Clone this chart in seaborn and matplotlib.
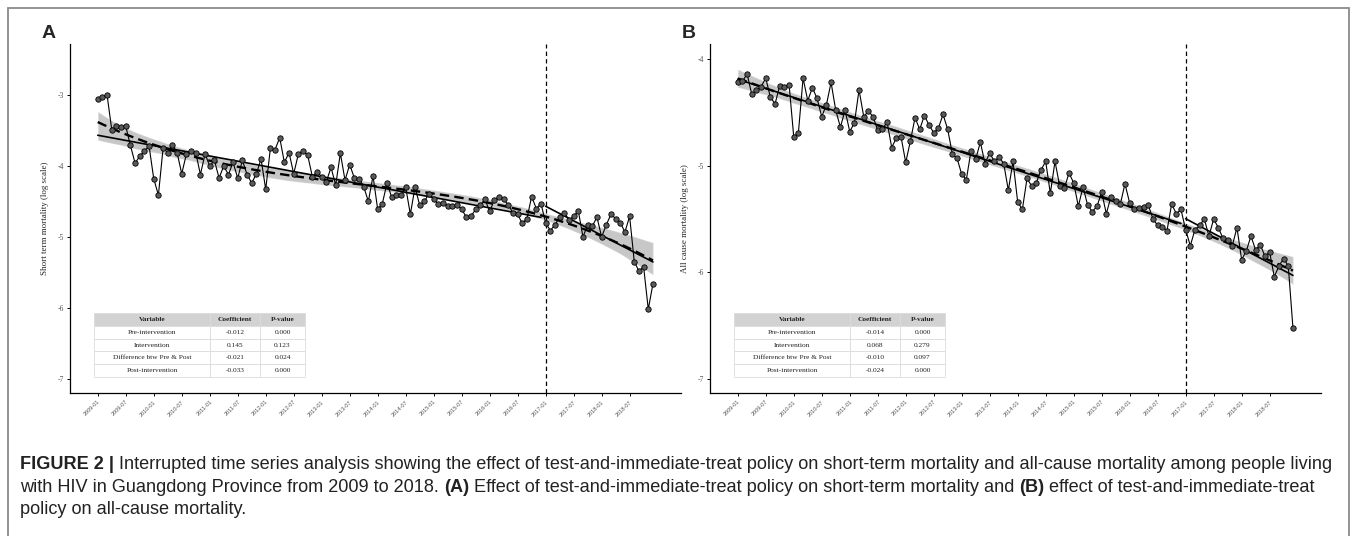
import numpy as np
import pandas as pd
import seaborn as sns
import matplotlib.pyplot as plt
from matplotlib.patches import Rectangle

# monthly log mortality, 2009-01 .. 2018-12
short_term = [-3.06, -3.03, -3.00, -3.49, -3.44, -3.45, -3.44, -3.71, -3.96, -3.86,
              -3.79, -3.72, -4.18, -4.41, -3.75, -3.81, -3.70, -3.81, -4.11, -3.83,
              -3.79, -3.81, -4.12, -3.83, -4.00, -3.92, -4.17, -4.00, -4.12, -3.95,
              -4.17, -3.92, -4.12, -4.24, -4.11, -3.90, -4.33, -3.75, -3.77, -3.60,
              -3.95, -3.81, -4.11, -3.83, -3.79, -3.85, -4.15, -4.08, -4.15, -4.22,
              -4.02, -4.27, -3.82, -4.20, -3.98, -4.17, -4.18, -4.29, -4.50, -4.14,
              -4.61, -4.53, -4.24, -4.44, -4.41, -4.41, -4.30, -4.68, -4.30, -4.55,
              -4.50, -4.39, -4.47, -4.54, -4.52, -4.56, -4.57, -4.55, -4.61, -4.72,
              -4.71, -4.61, -4.55, -4.47, -4.64, -4.48, -4.43, -4.47, -4.55, -4.66,
              -4.68, -4.81, -4.74, -4.43, -4.60, -4.53, -4.80, -4.91, -4.83, -4.72,
              -4.66, -4.76, -4.71, -4.63, -5.00, -4.83, -4.85, -4.72, -5.00, -4.83,
              -4.68, -4.74, -4.80, -4.93, -4.71, -5.35, -5.48, -5.42, -6.02, -5.66]

all_cause = [-4.22, -4.21, -4.14, -4.33, -4.29, -4.26, -4.18, -4.36, -4.42, -4.25,
             -4.26, -4.24, -4.73, -4.69, -4.18, -4.39, -4.27, -4.37, -4.54, -4.43,
             -4.22, -4.48, -4.64, -4.48, -4.68, -4.60, -4.29, -4.54, -4.49, -4.54,
             -4.67, -4.66, -4.59, -4.83, -4.74, -4.73, -4.97, -4.77, -4.55, -4.66,
             -4.53, -4.62, -4.69, -4.65, -4.52, -4.66, -4.89, -4.93, -5.08, -5.13,
             -4.86, -4.94, -4.78, -4.98, -4.88, -4.96, -4.92, -4.98, -5.23, -4.96,
             -5.34, -5.41, -5.12, -5.19, -5.16, -5.04, -4.96, -5.26, -4.96, -5.19,
             -5.21, -5.07, -5.16, -5.38, -5.20, -5.37, -5.43, -5.38, -5.25, -5.45,
             -5.29, -5.33, -5.36, -5.17, -5.35, -5.41, -5.40, -5.39, -5.37, -5.50,
             -5.56, -5.57, -5.61, -5.36, -5.45, -5.41, -5.60, -5.75, -5.60, -5.56,
             -5.50, -5.66, -5.50, -5.58, -5.68, -5.70, -5.75, -5.58, -5.88, -5.80,
             -5.66, -5.79, -5.74, -5.85, -5.81, -6.04, -5.94, -5.87, -5.94, -6.52]

tick_labels = [f'{y}-{m}' for y in range(2009, 2019) for m in ('01', '07')]
intervention = '2017-01'

table_vars = ['Pre-intervention', 'Intervention', 'Difference btw Pre & Post', 'Post-intervention']
coef_a = ['-0.012', '0.145', '-0.021', '-0.033']
pval_a = ['0.000', '0.123', '0.024', '0.000']
coef_b = ['-0.014', '0.068', '-0.010', '-0.024']
pval_b = ['0.000', '0.279', '0.097', '0.000']

caption = [
    [('FIGURE 2 |', True), (' Interrupted time series analysis showing the effect of test-and-immediate-treat policy on '
                            'short-term mortality and all-cause mortality among people living', False)],
    [('with HIV in Guangdong Province from 2009 to 2018. ', False), ('(A)', True),
     (' Effect of test-and-immediate-treat policy on short-term mortality and ', False), ('(B)', True),
     (' effect of test-and-immediate-treat', False)],
    [('policy on all-cause mortality.', False)],
]

df = pd.DataFrame({'month': np.arange(len(short_term)), 'short': short_term, 'all': all_cause})
cut = tick_labels.index(intervention) * 6

sns.set_style('ticks')
plt.rcParams['font.family'] = ['Liberation Sans', 'DejaVu Sans']
SERIF = ['Liberation Serif', 'DejaVu Serif']

W, H = 1355, 536
fig = plt.figure(figsize=(W / 100, H / 100), dpi=100)


def panel(left, col, ylabel, ylim, yticks, coef, pval, letter):
    ax = fig.add_axes([left / W, 1 - 393 / H, 610.7 / W, 349 / H])
    pre = df[df.month < cut]
    post = df[df.month >= cut]
    sns.regplot(data=df, x='month', y=col, order=3, scatter=False, ci=95, n_boot=500, seed=2,
                color='black', line_kws=dict(ls=(0, (4, 2.2)), lw=1.7), ax=ax)
    for coll in ax.collections:
        coll.set_alpha(0.22)
    sns.regplot(data=pre, x='month', y=col, scatter=False, ci=None, color='black',
                line_kws=dict(lw=1.2), ax=ax)
    sns.regplot(data=post, x='month', y=col, scatter=False, ci=None, color='black',
                line_kws=dict(lw=1.2), ax=ax)
    sns.lineplot(data=df, x='month', y=col, color='black', lw=0.8, ax=ax)
    sns.scatterplot(data=df, x='month', y=col, color='#5a5a5a', edgecolor='black',
                    linewidth=0.6, s=15, zorder=4, ax=ax)
    ax.axvline(cut, color='black', ls=(0, (3.5, 2.5)), lw=0.9)

    ax.set_xlim(-5.95, 124.95)
    ax.set_ylim(*ylim)
    ax.set_xticks(np.arange(len(tick_labels)) * 6)
    ax.set_xticklabels(tick_labels, rotation=45, ha='right', rotation_mode='anchor',
                       fontsize=4, color='#555555')
    ax.set_yticks(yticks)
    ax.set_yticklabels([str(t) for t in yticks], fontsize=5.5, color='#555555', family=SERIF)
    ax.tick_params(length=2.5, width=0.7, color='black', pad=2)
    ax.set_xlabel('')
    ax.set_ylabel(ylabel, family=SERIF, fontsize=6.5, labelpad=6)
    for s in ('top', 'right'):
        ax.spines[s].set_visible(False)
    for s in ('left', 'bottom'):
        ax.spines[s].set_linewidth(0.9)
        ax.spines[s].set_color('black')

    rows = [[v, c, p] for v, c, p in zip(table_vars, coef, pval)]
    tb = ax.table(cellText=rows, colLabels=['Variable', 'Coefficient', 'P-value'],
                  cellLoc='center', bbox=[0.04, 0.046, 0.344, 0.183],
                  colWidths=[0.55, 0.24, 0.21])
    tb.auto_set_font_size(False)
    for (r, c), cell in tb.get_celld().items():
        cell.set_edgecolor('#dcdcdc')
        cell.set_linewidth(0.6)
        t = cell.get_text()
        t.set_fontfamily(SERIF)
        t.set_fontsize(5.3)
        t.set_color('#222222')
        if r == 0:
            cell.set_facecolor('#d2d2d2')
            t.set_fontweight('bold')
    ax.text(left / W - 0.016, 0.938, letter, transform=fig.transFigure, fontsize=14,
            fontweight='bold', ha='center', va='center')
    return ax


panel(70, 'short', 'Short term mortality (log scale)', (-7.2, -2.28), [-3, -4, -5, -6, -7],
      coef_a, pval_a, 'A')
panel(710, 'all', 'All cause mortality (log scale)', (-7.13, -3.86), [-4, -5, -6, -7],
      coef_b, pval_b, 'B')

# figure frame
fig.patches.append(Rectangle((8 / W, -0.1), 1341 / W, 1.1 - 8 / H, transform=fig.transFigure,
                             fill=False, edgecolor='#8a8a8a', lw=1.3))

renderer = fig.canvas.get_renderer()
for i, parts in enumerate(caption):
    x = 20
    y = 1 - (469 + 22.5 * i) / H
    for s, bold in parts:
        t = fig.text(x / W, y, s, fontsize=13.1, color='#222222', va='baseline',
                     fontweight='bold' if bold else 'normal')
        x = t.get_window_extent(renderer).x1

fig.savefig('out.png', dpi=100)
